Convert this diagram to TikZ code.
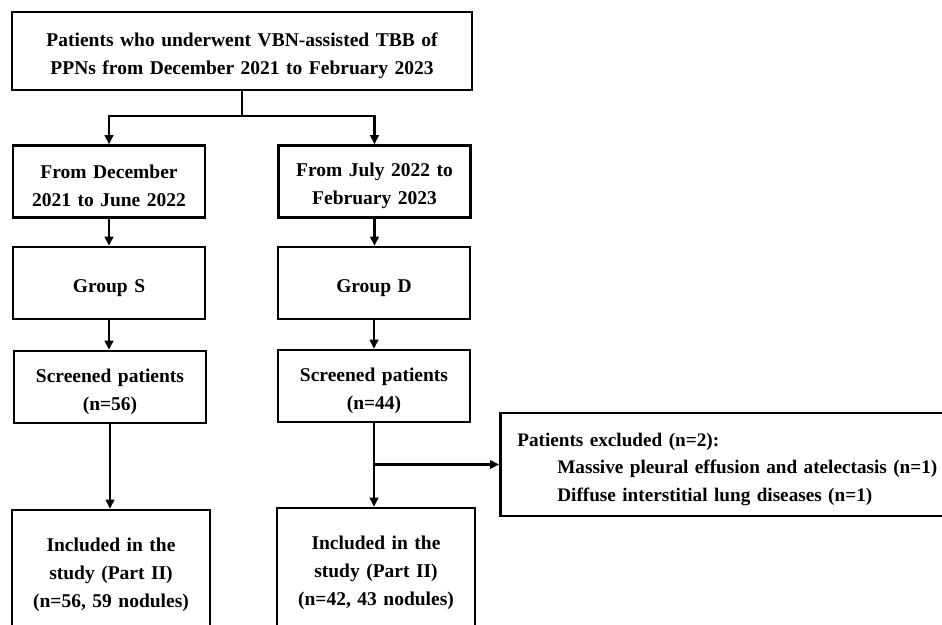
\documentclass[tikz,border=0pt]{standalone}
\usepackage{fontspec}
\setmainfont{Liberation Serif}
\usetikzlibrary{arrows.meta,positioning}
\tikzset{
  box/.style  ={draw, line width=2.6pt, align=center, inner sep=0pt,
                font=\fontsize{19.5}{28}\selectfont\bfseries,
                execute at begin node={\rule{0pt}{22.5pt}},
                text width=186pt, minimum width=192pt, minimum height=72pt},
  wide/.style ={box, text width=450pt, minimum width=460pt, minimum height=78pt},
  tall/.style ={box, minimum width=198pt, minimum height=120pt,
                execute at begin node={\rule{0pt}{19pt}}},
  note/.style ={box, align=left, inner xsep=17pt, text width=440pt,
                font=\fontsize{19.2}{27.5}\selectfont\bfseries,
                minimum height=103pt, anchor=west},
  link/.style ={line width=2.2pt},
  arrow/.style={-{Triangle[length=9pt,width=8.5pt]}, line width=2.2pt},
}

\begin{document}
\begin{tikzpicture}[x=1pt,y=-1pt]
    \useasboundingbox (0,0) rectangle (942,624);
    \node[wide] (all) at (242,51) {Patients who underwent VBN-assisted TBB of\\PPNs from December 2021 to February 2023};
    \node[box]  (early) at (109,181.5) {From December\\2021 to June 2022};
    \node[box]  (late)  at (374.5,181.5) {From July 2022 to\\February 2023};
    \node[box]  (grpS)  at (109,283) {Group S};
    \node[box]  (grpD)  at (374,283) {Group D};
    \node[box]  (scrS)  at (110,387) {Screened patients\\(n=56)};
    \node[box]  (scrD)  at (374,386) {Screened patients\\(n=44)};
    \node[tall] (incS)  at (111,570) {Included in the\\study (Part II)\\(n=56, 59 nodules)};
    \node[tall] (incD)  at (376,568) {Included in the\\study (Part II)\\(n=42, 43 nodules)};
    \node[note] (excl)  at (499,464.5) {Patients excluded (n=2):\\\hspace*{40pt}Massive pleural effusion and atelectasis (n=1)\\\hspace*{40pt}Diffuse interstitial lung diseases (n=1)};
    \draw[link](all.south)--++(0,25) coordinate (split);
    \draw[arrow](split)-|(early.north);\draw[arrow](split)-|(late.north);
    \draw[arrow](early.south)--(early.south|-grpS.north);\draw[arrow](late.south)--(late.south|-grpD.north);
    \draw[arrow](grpS.south)--(grpS.south|-scrS.north);\draw[arrow](grpD.south)--(grpD.south|-scrD.north);
    \draw[arrow](scrS.south)--(scrS.south|-incS.north);\draw[arrow](scrD.south)--(scrD.south|-incD.north);
    \draw[arrow](scrD.south|-excl.west)--(excl.west);
  \end{tikzpicture}
\end{document}
